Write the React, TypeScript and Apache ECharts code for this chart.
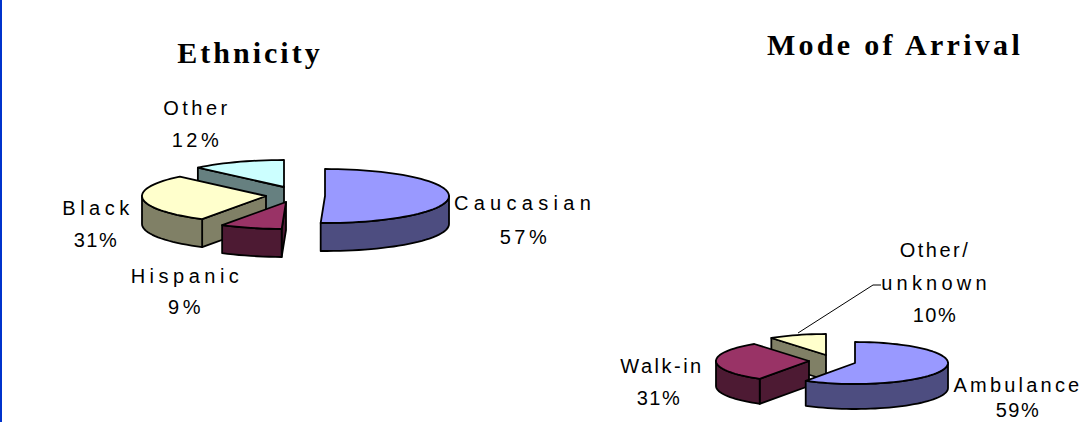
import React, { useEffect, useRef } from "react";
import * as echarts from "echarts";

const ethnicityNames = ["Caucasian", "Hispanic", "Black", "Other"];
const ethnicityPercents = [57, 9, 31, 12];
const ethnicitySweeps = [182, 29, 105, 44];
const ethnicityApexes = [[325, 196], [286, 202], [266, 196], [284, 187]];

const arrivalNames = ["Ambulance", "Walk-in", "Other/unknown"];
const arrivalPercents = [59, 31, 10];
const arrivalSweeps = [212, 112, 36];
const arrivalApexes = [[855, 363], [809, 361], [826, 355]];

const ethnicityTop = ["#9999FF", "#993366", "#FFFFCC", "#CCFFFF"];
const ethnicitySide = ["#4D4D80", "#4D1A33", "#808066", "#668080"];
const arrivalTop = ["#9999FF", "#993366", "#FFFFCC"];
const arrivalSide = ["#4D4D80", "#4D1A33", "#808066"];

const rad = (d: number) => (d * Math.PI) / 180;

function pieRenderer(
  sweeps: number[], apexes: number[][], tops: string[], sides: string[],
  rx: number, ry: number, depth: number
) {
  return (_params: any, api: any) => {
    const i = api.value(0) as number;
    const start = sweeps.slice(0, i).reduce((a, b) => a + b, 0);
    const end = start + sweeps[i];
    const [cx, cy] = apexes[i];
    const at = (a: number, dy = 0) => [
      cx + rx * Math.sin(rad(a)),
      cy - ry * Math.cos(rad(a)) + dy,
    ];
    const arc = (a0: number, a1: number, dy = 0) => {
      const n = Math.max(2, Math.ceil((a1 - a0) / 3));
      const pts: number[][] = [];
      for (let k = 0; k <= n; k++) pts.push(at(a0 + ((a1 - a0) * k) / n, dy));
      return pts;
    };
    const stroke = { stroke: "#000", lineWidth: 1.8, lineJoin: "round" };
    const children: any[] = [];
    const face = (points: number[][], fill: string) =>
      children.push({ type: "polygon", shape: { points }, style: { fill, ...stroke } });

    if (Math.sin(rad(start)) < 0) {
      face([[cx, cy], at(start), at(start, depth), [cx, cy + depth]], sides[i]);
    }
    const s0 = Math.max(start, 90);
    const s1 = Math.min(end, 270);
    if (s1 > s0) {
      face([...arc(s0, s1), ...arc(s0, s1, depth).reverse()], sides[i]);
    }
    face([[cx, cy], ...arc(start, end)], tops[i]);
    return { type: "group", children };
  };
}

const LABEL_FONT = "Liberation Sans, Arial, sans-serif";
const TITLE_FONT = "Liberation Serif, Times New Roman, serif";

const labels: [string, number, number, number][] = [
  [ethnicityNames[3], 197, 108, 3.5],
  [`${ethnicityPercents[3]}%`, 197, 140, 3.5],
  [ethnicityNames[0], 525, 203, 5.3],
  [`${ethnicityPercents[0]}%`, 525, 237, 3.5],
  [ethnicityNames[2], 98, 208, 4.5],
  [`${ethnicityPercents[2]}%`, 96, 240, 3.5],
  [ethnicityNames[1], 187, 276, 4.5],
  [`${ethnicityPercents[1]}%`, 186, 307, 3.5],
  ["Other/", 935, 250, 2.5],
  ["unknown", 936, 283, 4.2],
  [`${arrivalPercents[2]}%`, 935, 315, 1.5],
  [arrivalNames[1], 662, 366, 2.5],
  [`${arrivalPercents[1]}%`, 659, 398, 1.5],
  [arrivalNames[0], 1018, 385, 3.2],
  [`${arrivalPercents[0]}%`, 1018, 410, 1.5],
];

const titles: [string, number, number, number][] = [
  ["Ethnicity", 250, 52, 3],
  ["Mode of Arrival", 895, 44, 3.3],
];

export default function App() {
  const ref = useRef<HTMLDivElement>(null);
  useEffect(() => {
    document.body.style.margin = "0";
    document.body.style.overflow = "hidden";
    const chart = echarts.init(ref.current!, undefined, { renderer: "svg" });
    chart.setOption({
      animation: false,
      backgroundColor: "#FFFFFF",
      graphic: [
        { type: "rect", shape: { x: 0, y: 0, width: 2, height: 422 }, style: { fill: "#0033CC" } },
        {
          type: "polyline", z: 10,
          shape: { points: [[798, 333], [873, 285], [881, 285]] },
          style: { stroke: "#000", lineWidth: 1, fill: "none" },
        },
        ...titles.map(([text, x, y]) => ({
          type: "text", x, y,
          style: { text, fill: "#000", font: `bold 30px ${TITLE_FONT}`, textAlign: "center", textVerticalAlign: "middle" },
        })),
        ...labels.map(([text, x, y]) => ({
          type: "text", x, y,
          style: { text, fill: "#000", font: `20px ${LABEL_FONT}`, textAlign: "center", textVerticalAlign: "middle" },
        })),
      ],
      series: [
        {
          type: "custom", coordinateSystem: "none", silent: true,
          data: [[3], [2], [1], [0]],
          renderItem: pieRenderer(ethnicitySweeps, ethnicityApexes, ethnicityTop, ethnicitySide, 124, 27, 28),
        },
        {
          type: "custom", coordinateSystem: "none", silent: true,
          data: [[2], [1], [0]],
          renderItem: pieRenderer(arrivalSweeps, arrivalApexes, arrivalTop, arrivalSide, 93, 21, 25),
        },
      ],
    });
    // ECharts has no letter-spacing option: apply the reference's wide tracking to the SVG texts.
    const spacing = new Map<string, number>([...labels, ...titles].map((t) => [t[0], t[3]]));
    ref.current!.querySelectorAll("svg text").forEach((node) => {
      const s = spacing.get(node.textContent || "");
      if (s != null) (node as SVGTextElement).style.letterSpacing = `${s}px`;
    });
    return () => chart.dispose();
  }, []);
  return <div ref={ref} style={{ width: 1086, height: 422 }} />;
}
